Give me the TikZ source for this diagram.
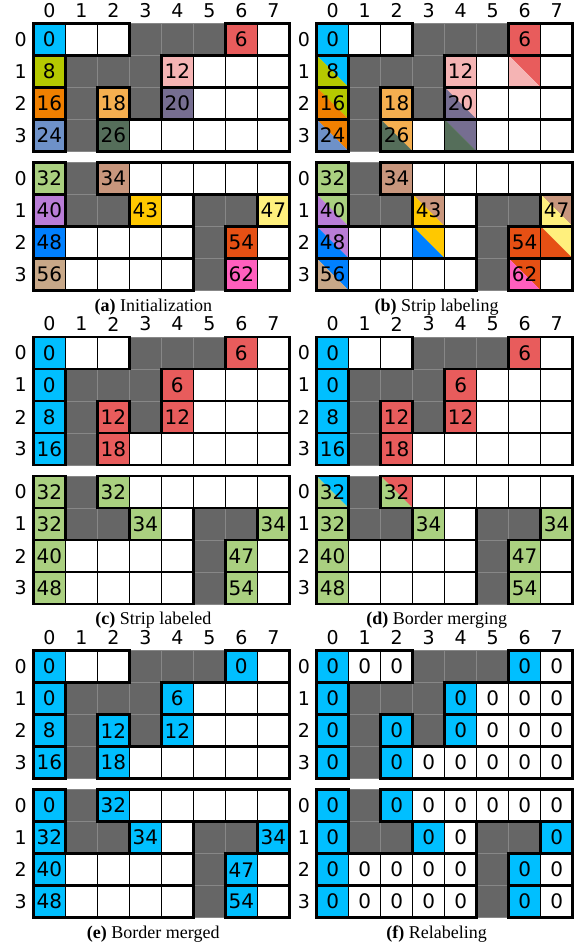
\documentclass[tikz,border=0pt]{standalone}
\usepackage{fontspec}
\setmainfont{Liberation Serif}
\newfontfamily\cellfont{DejaVu Sans}
\usepackage{xcolor}
\usetikzlibrary{positioning}
\definecolor{cCyan}{RGB}{0,191,255}
\definecolor{cRed}{RGB}{232,92,92}
\definecolor{cOlive}{RGB}{181,201,0}
\definecolor{cPink}{RGB}{245,180,180}
\definecolor{cOrange}{RGB}{240,128,0}
\definecolor{cApricot}{RGB}{245,175,80}
\definecolor{cPurple}{RGB}{118,110,145}
\definecolor{cSteel}{RGB}{110,145,200}
\definecolor{cMoss}{RGB}{85,110,90}
\definecolor{cLime}{RGB}{170,208,128}
\definecolor{cClay}{RGB}{200,150,125}
\definecolor{cLilac}{RGB}{185,125,215}
\definecolor{cGold}{RGB}{255,200,0}
\definecolor{cLemon}{RGB}{255,240,125}
\definecolor{cAzure}{RGB}{0,128,255}
\definecolor{cRust}{RGB}{230,80,20}
\definecolor{cSand}{RGB}{200,168,136}
\definecolor{cRose}{RGB}{255,95,190}
\definecolor{bgfill}{RGB}{102,102,102}
\definecolor{bgline}{RGB}{135,135,135}

% empty cells of one panel, with the axis numbers
\newcommand{\basegrid}[3]{%
  \foreach \c in {0,...,7} {
    \node[axis] (#1-col\c) at ({#2+16+32*\c},{#3-13}) {\c};
    \foreach \r in {0,...,3} {
      \node[cellbox] (#1-t-\c-\r) at ({#2+16+32*\c},{#3+16+32*\r}) {};
      \node[cellbox] (#1-b-\c-\r) at ({#2+16+32*\c},{#3+155+32*\r}) {};
    }
  }
  \foreach \r in {0,...,3} {
    \node[axis] (#1-trow\r) at ({#2-12.7},{#3+16+32*\r}) {\r};
    \node[axis] (#1-brow\r) at ({#2-12.7},{#3+155+32*\r}) {\r};
  }
}
\newcommand{\tint}[3]{%
  \fill[#2] (#1.north west) rectangle (#1.south east);
  \node[celltext] (#1-txt) at (#1) {#3};}
\newcommand{\twotone}[4]{%
  \fill[#2] (#1.north west) -- (#1.north east) -- (#1.south east) -- cycle;
  \fill[#3] (#1.north west) -- (#1.south west) -- (#1.south east) -- cycle;
  \node[celltext] (#1-txt) at (#1) {#4};}
% thin lines, background cells and thick strip borders
\newcommand{\gridlines}[1]{%
  \foreach \h in {t,b}
    \foreach \c in {0,...,7}
      \foreach \r in {0,...,3}
        \draw[thinline] (#1-\h-\c-\r.north west) rectangle (#1-\h-\c-\r.south east);
  \foreach \c/\r in {3/0,4/0,5/0,1/1,2/1,3/1,1/2,3/2,1/3}
    \filldraw[bgcell] (#1-t-\c-\r.north west) rectangle (#1-t-\c-\r.south east);
  \foreach \c/\r in {1/0,1/1,2/1,5/1,6/1,5/2,5/3}
    \filldraw[bgcell] (#1-b-\c-\r.north west) rectangle (#1-b-\c-\r.south east);
  \foreach \a/\e/\r in {0/2/0,6/7/0,0/0/1,4/7/1,0/0/2,2/2/2,4/7/2,0/0/3,2/7/3}
    \draw[runbox] (#1-t-\a-\r.north west) rectangle (#1-t-\e-\r.south east);
  \foreach \a/\e/\r in {0/0/0,2/7/0,0/0/1,3/4/1,7/7/1,0/4/2,6/7/2,0/4/3,6/7/3}
    \draw[runbox] (#1-b-\a-\r.north west) rectangle (#1-b-\e-\r.south east);
}
\newcommand{\subcap}[5]{%
  \node[capt, anchor=base] (#1-cap) at ({#2+120},{#3+287.7}) {\textbf{(#4)} #5};}

\begin{document}
\begin{tikzpicture}[x=1pt, y=-1pt,
  cellbox/.style={fill=white, minimum size=32pt, inner sep=0pt, outer sep=0pt},
  celltext/.style={inner sep=0pt, font=\cellfont\fontsize{20}{20}\selectfont},
  axis/.style={inner sep=0pt, font=\cellfont\fontsize{19}{19}\selectfont},
  thinline/.style={draw=black, line width=0.9pt},
  bgcell/.style={fill=bgfill, draw=bgline, line width=0.9pt},
  runbox/.style={draw=black, line width=2.6pt},
  capt/.style={inner sep=0pt, font=\fontsize{18}{20}\selectfont}]
\useasboundingbox (0,0) rectangle (579,947);

% (a)
\basegrid{a}{33.3}{23.3}
\tint{a-t-0-0}{cCyan}{0}
\tint{a-t-6-0}{cRed}{6}
\tint{a-t-0-1}{cOlive}{8}
\tint{a-t-4-1}{cPink}{12}
\tint{a-t-0-2}{cOrange}{16}
\tint{a-t-2-2}{cApricot}{18}
\tint{a-t-4-2}{cPurple}{20}
\tint{a-t-0-3}{cSteel}{24}
\tint{a-t-2-3}{cMoss}{26}
\tint{a-b-0-0}{cLime}{32}
\tint{a-b-2-0}{cClay}{34}
\tint{a-b-0-1}{cLilac}{40}
\tint{a-b-3-1}{cGold}{43}
\tint{a-b-7-1}{cLemon}{47}
\tint{a-b-0-2}{cAzure}{48}
\tint{a-b-6-2}{cRust}{54}
\tint{a-b-0-3}{cSand}{56}
\tint{a-b-6-3}{cRose}{62}
\gridlines{a}
\subcap{a}{33.3}{23.3}{a}{Initialization}

% (b)
\basegrid{b}{316.7}{23.3}
\tint{b-t-0-0}{cCyan}{0}
\tint{b-t-6-0}{cRed}{6}
\twotone{b-t-0-1}{cCyan}{cOlive}{8}
\tint{b-t-4-1}{cPink}{12}
\twotone{b-t-6-1}{cRed}{cPink}{}
\twotone{b-t-0-2}{cOlive}{cOrange}{16}
\tint{b-t-2-2}{cApricot}{18}
\twotone{b-t-4-2}{cPink}{cPurple}{20}
\twotone{b-t-0-3}{cOrange}{cSteel}{24}
\twotone{b-t-2-3}{cApricot}{cMoss}{26}
\twotone{b-t-4-3}{cPurple}{cMoss}{}
\tint{b-b-0-0}{cLime}{32}
\tint{b-b-2-0}{cClay}{34}
\twotone{b-b-0-1}{cLime}{cLilac}{40}
\twotone{b-b-3-1}{cClay}{cGold}{43}
\twotone{b-b-7-1}{cClay}{cLemon}{47}
\twotone{b-b-0-2}{cLilac}{cAzure}{48}
\twotone{b-b-3-2}{cGold}{cAzure}{}
\tint{b-b-6-2}{cRust}{54}
\twotone{b-b-7-2}{cLemon}{cRust}{}
\twotone{b-b-0-3}{cAzure}{cSand}{56}
\twotone{b-b-6-3}{cRust}{cRose}{62}
\gridlines{b}
\subcap{b}{316.7}{23.3}{b}{Strip labeling}

% (c)
\basegrid{c}{33.3}{337}
\tint{c-t-0-0}{cCyan}{0}
\tint{c-t-0-1}{cCyan}{0}
\tint{c-t-0-2}{cCyan}{8}
\tint{c-t-0-3}{cCyan}{16}
\tint{c-t-6-0}{cRed}{6}
\tint{c-t-4-1}{cRed}{6}
\tint{c-t-2-2}{cRed}{12}
\tint{c-t-4-2}{cRed}{12}
\tint{c-t-2-3}{cRed}{18}
\tint{c-b-0-0}{cLime}{32}
\tint{c-b-2-0}{cLime}{32}
\tint{c-b-0-1}{cLime}{32}
\tint{c-b-3-1}{cLime}{34}
\tint{c-b-7-1}{cLime}{34}
\tint{c-b-0-2}{cLime}{40}
\tint{c-b-6-2}{cLime}{47}
\tint{c-b-0-3}{cLime}{48}
\tint{c-b-6-3}{cLime}{54}
\gridlines{c}
\subcap{c}{33.3}{337}{c}{Strip labeled}

% (d)
\basegrid{d}{316.7}{337}
\tint{d-t-0-0}{cCyan}{0}
\tint{d-t-0-1}{cCyan}{0}
\tint{d-t-0-2}{cCyan}{8}
\tint{d-t-0-3}{cCyan}{16}
\tint{d-t-6-0}{cRed}{6}
\tint{d-t-4-1}{cRed}{6}
\tint{d-t-2-2}{cRed}{12}
\tint{d-t-4-2}{cRed}{12}
\tint{d-t-2-3}{cRed}{18}
\twotone{d-b-0-0}{cCyan}{cLime}{32}
\twotone{d-b-2-0}{cRed}{cLime}{32}
\tint{d-b-0-1}{cLime}{32}
\tint{d-b-3-1}{cLime}{34}
\tint{d-b-7-1}{cLime}{34}
\tint{d-b-0-2}{cLime}{40}
\tint{d-b-6-2}{cLime}{47}
\tint{d-b-0-3}{cLime}{48}
\tint{d-b-6-3}{cLime}{54}
\gridlines{d}
\subcap{d}{316.7}{337}{d}{Border merging}

% (e)
\basegrid{e}{33.3}{650.7}
\tint{e-t-0-0}{cCyan}{0}
\tint{e-t-0-1}{cCyan}{0}
\tint{e-t-0-2}{cCyan}{8}
\tint{e-t-0-3}{cCyan}{16}
\tint{e-t-6-0}{cCyan}{0}
\tint{e-t-4-1}{cCyan}{6}
\tint{e-t-2-2}{cCyan}{12}
\tint{e-t-4-2}{cCyan}{12}
\tint{e-t-2-3}{cCyan}{18}
\tint{e-b-0-0}{cCyan}{0}
\tint{e-b-2-0}{cCyan}{32}
\tint{e-b-0-1}{cCyan}{32}
\tint{e-b-3-1}{cCyan}{34}
\tint{e-b-7-1}{cCyan}{34}
\tint{e-b-0-2}{cCyan}{40}
\tint{e-b-6-2}{cCyan}{47}
\tint{e-b-0-3}{cCyan}{48}
\tint{e-b-6-3}{cCyan}{54}
\gridlines{e}
\subcap{e}{33.3}{650.7}{e}{Border merged}

% (f)
\basegrid{f}{316.7}{650.7}
\foreach \c/\r in {0/0,6/0,0/1,4/1,0/2,2/2,4/2,0/3,2/3}
  {\tint{f-t-\c-\r}{cCyan}{0}}
\foreach \c/\r in {0/0,2/0,0/1,3/1,7/1,0/2,6/2,0/3,6/3}
  {\tint{f-b-\c-\r}{cCyan}{0}}
\foreach \c/\r in {1/0,2/0,7/0,5/1,6/1,7/1,5/2,6/2,7/2,3/3,4/3,5/3,6/3,7/3}
  {\node[celltext] (f-t-\c-\r-txt) at (f-t-\c-\r) {0};}
\foreach \c/\r in {3/0,4/0,5/0,6/0,7/0,4/1,1/2,2/2,3/2,4/2,7/2,1/3,2/3,3/3,4/3,7/3}
  {\node[celltext] (f-b-\c-\r-txt) at (f-b-\c-\r) {0};}
\gridlines{f}
\subcap{f}{316.7}{650.7}{f}{Relabeling}
\end{tikzpicture}
\end{document}
